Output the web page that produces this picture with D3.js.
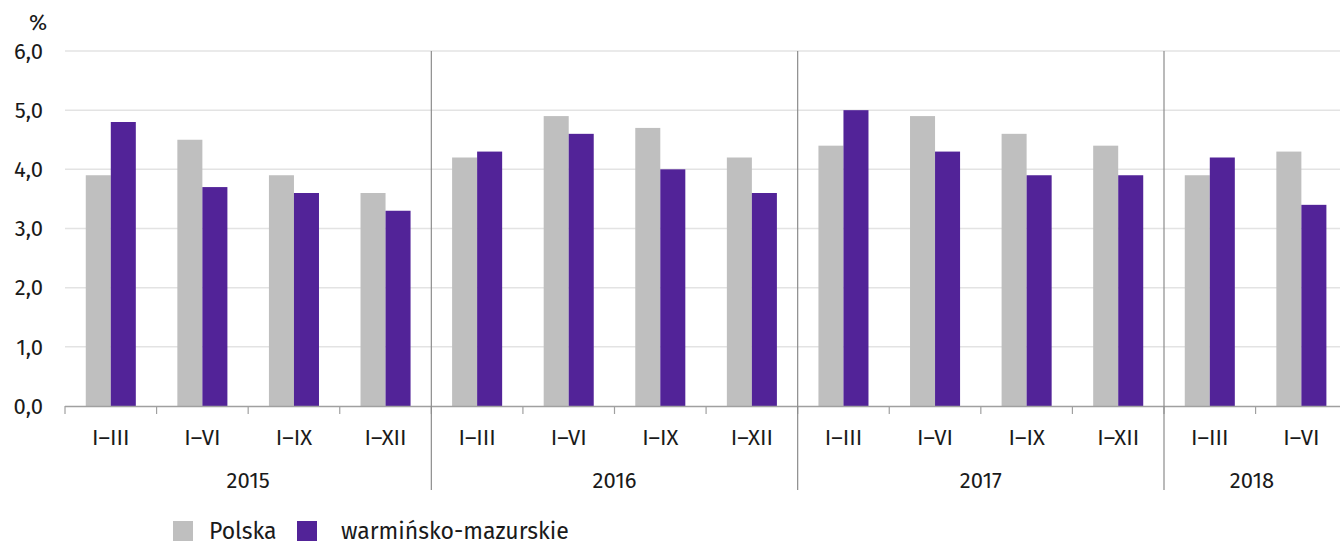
<!DOCTYPE html>
<html>
<head>
<meta charset="utf-8">
<script src="https://cdn.jsdelivr.net/npm/d3@7"></script>
<style>
  body { margin: 0; background: #fff; }
  svg text { font-family: "Fira Sans", "Noto Sans", "Open Sans", sans-serif; fill: #1a1a1a; }
</style>
</head>
<body>
<svg width="1340" height="542"></svg>
<script>
// data
var years = ["2015", "2016", "2017", "2018"];
var periods = ["I–III", "I–VI", "I–IX", "I–XII", "I–III", "I–VI", "I–IX", "I–XII",
               "I–III", "I–VI", "I–IX", "I–XII", "I–III", "I–VI"];
var periodYear = [0, 0, 0, 0, 1, 1, 1, 1, 2, 2, 2, 2, 3, 3];
var polska = [3.9, 4.5, 3.9, 3.6, 4.2, 4.9, 4.7, 4.2, 4.4, 4.9, 4.6, 4.4, 3.9, 4.3];
var warminsko = [4.8, 3.7, 3.6, 3.3, 4.3, 4.6, 4.0, 3.6, 5.0, 4.3, 3.9, 3.9, 4.2, 3.4];
var seriesNames = ["Polska", "warmińsko-mazurskie"];
var yTicks = [0, 1, 2, 3, 4, 5, 6];

var colors = ["#bfbfbf", "#522398"];

var svg = d3.select("svg"),
    plotLeft = 65, plotTop = 51, plotBottom = 406,
    bandW = (1164 - 65) / 12,
    plotRight = plotLeft + bandW * periods.length;

var idx = d3.range(periods.length);

var x = d3.scaleBand().domain(idx).range([plotLeft, plotRight]).paddingInner(0).paddingOuter(0);
var xs = d3.scaleBand().domain([0, 1]).range([0, x.bandwidth()]).paddingInner(0).paddingOuter(0.83);
var y = d3.scaleLinear().domain([0, 6]).range([plotBottom, plotTop]);

// gridlines
svg.append("g").selectAll("line")
  .data(yTicks.slice(1))
  .enter().append("line")
  .attr("x1", plotLeft).attr("x2", 1340)
  .attr("y1", function(d) { return y(d); })
  .attr("y2", function(d) { return y(d); })
  .attr("stroke", "#e3e3e3")
  .attr("stroke-width", 1.5);

// y labels
svg.append("g").selectAll("text")
  .data(yTicks)
  .enter().append("text")
  .attr("x", 43)
  .attr("y", function(d) { return y(d); })
  .attr("dy", "0.35em")
  .attr("text-anchor", "end")
  .attr("font-size", 22)
  .text(function(d) { return d3.format(".1f")(d).replace(".", ","); });

svg.append("text")
  .attr("x", 38).attr("y", 30)
  .attr("text-anchor", "middle")
  .attr("font-size", 22)
  .text("%");

// bars
var series = [polska, warminsko];
series.forEach(function(vals, s) {
  svg.append("g").selectAll("rect")
    .data(vals)
    .enter().append("rect")
    .attr("x", function(d, i) { return x(i) + xs(s); })
    .attr("width", xs.bandwidth())
    .attr("y", function(d) { return y(d); })
    .attr("height", function(d) { return y(0) - y(d); })
    .attr("fill", colors[s]);
});

// baseline
svg.append("line")
  .attr("x1", plotLeft).attr("x2", 1340)
  .attr("y1", plotBottom + 0.5).attr("y2", plotBottom + 0.5)
  .attr("stroke", "#a0a0a0").attr("stroke-width", 1.5);

// category ticks
svg.append("g").selectAll("line")
  .data(idx)
  .enter().append("line")
  .attr("x1", function(d) { return x(d); })
  .attr("x2", function(d) { return x(d); })
  .attr("y1", plotBottom).attr("y2", plotBottom + 8)
  .attr("stroke", "#a0a0a0").attr("stroke-width", 1.2);

// year separators
var yearStart = years.map(function(yr, k) { return periodYear.indexOf(k); });
svg.append("g").selectAll("line")
  .data(yearStart.slice(1))
  .enter().append("line")
  .attr("x1", function(d) { return x(d); })
  .attr("x2", function(d) { return x(d); })
  .attr("y1", plotTop).attr("y2", 490)
  .attr("stroke", "#8c8c8c").attr("stroke-width", 1.2);

// period labels
svg.append("g").selectAll("text")
  .data(periods)
  .enter().append("text")
  .attr("x", function(d, i) { return x(i) + x.bandwidth() / 2; })
  .attr("y", 445)
  .attr("text-anchor", "middle")
  .attr("font-size", 22)
  .text(function(d) { return d; });

// year labels
svg.append("g").selectAll("text")
  .data(years)
  .enter().append("text")
  .attr("x", function(d, k) {
    var ids = idx.filter(function(i) { return periodYear[i] === k; });
    var a = x(ids[0]), b = x(ids[ids.length - 1]) + x.bandwidth();
    return (a + Math.min(b, 1340)) / 2;
  })
  .attr("y", 488)
  .attr("text-anchor", "middle")
  .attr("font-size", 22)
  .text(function(d) { return d; });

// legend
var legendX = [173, 297];
var legend = svg.append("g").selectAll("g")
  .data(seriesNames)
  .enter().append("g")
  .attr("transform", function(d, i) { return "translate(" + legendX[i] + ",521)"; });

legend.append("rect")
  .attr("width", 20).attr("height", 20)
  .attr("fill", function(d, i) { return colors[i]; });

legend.append("text")
  .attr("x", function(d, i) { return i === 0 ? 36 : 44; })
  .attr("y", 10)
  .attr("dy", "0.35em")
  .attr("font-size", 23)
  .text(function(d) { return d; });
</script>
</body>
</html>
